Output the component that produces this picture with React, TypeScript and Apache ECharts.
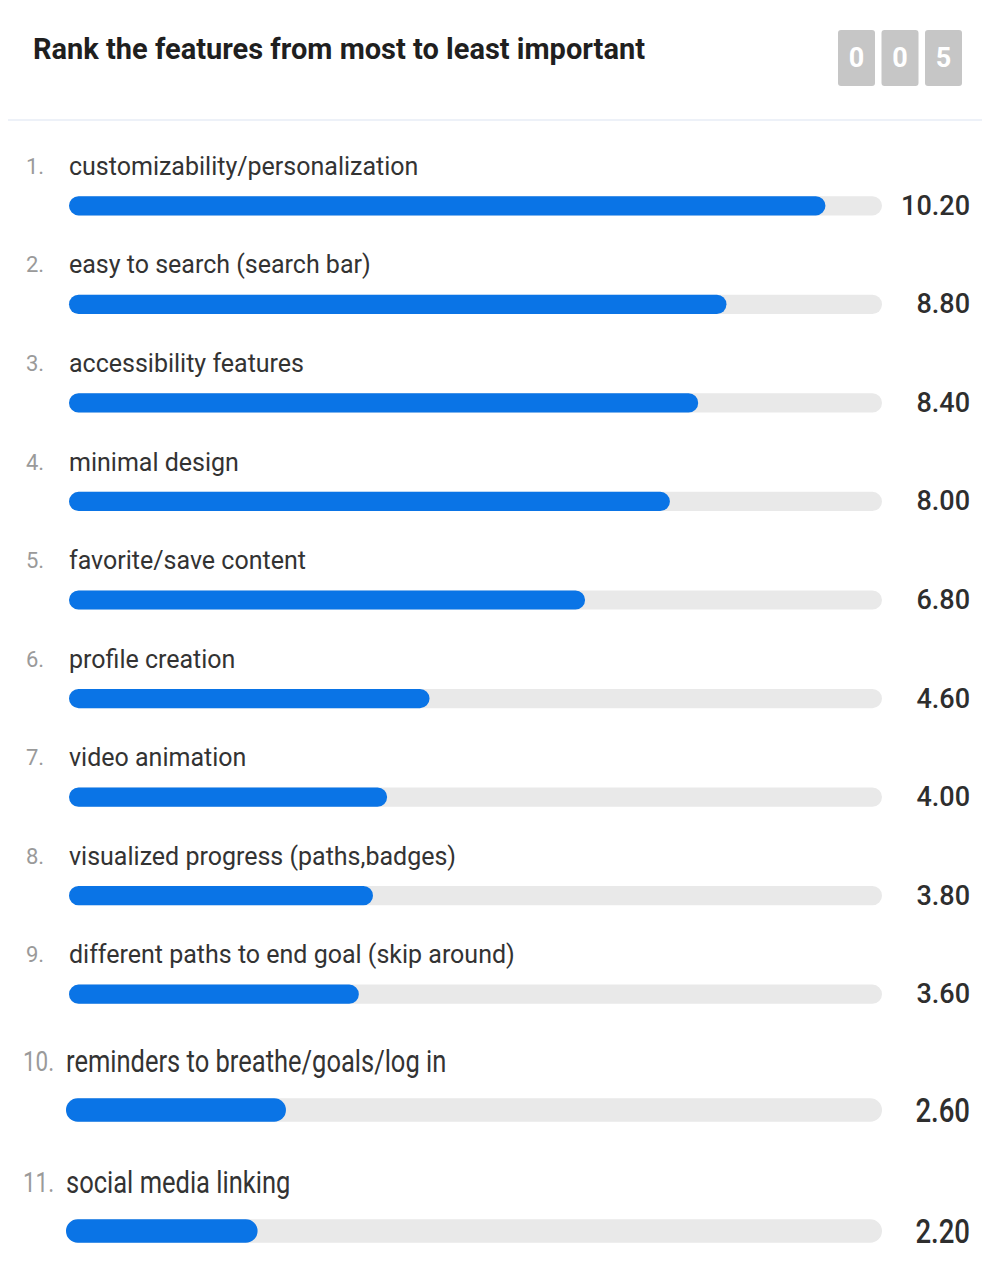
import React, { useEffect, useRef } from "react";
import * as echarts from "echarts";

const titleText = "Rank the features from most to least important";
const counterDigits = ["0", "0", "5"];
const features = [
  "customizability/personalization",
  "easy to search (search bar)",
  "accessibility features",
  "minimal design",
  "favorite/save content",
  "profile creation",
  "video animation",
  "visualized progress (paths,badges)",
  "different paths to end goal (skip around)",
  "reminders to breathe/goals/log in",
  "social media linking",
];
const scores = [10.2, 8.8, 8.4, 8.0, 6.8, 4.6, 4.0, 3.8, 3.6, 2.6, 2.2];
const scaleMin = -0.5;
const scaleMax = 11;

const FONT = "Roboto, 'Noto Sans', sans-serif";

function makeRenderer(textScaleY: number, textScaleX: number) {
  return (params: any, api: any) => {
    const cat = api.value(0);
    const v = api.value(1);
    const rank = api.value(2);
    const start = api.coord([scaleMin, cat]);
    const end = api.coord([v, cat]);
    const tEnd = api.coord([scaleMax, cat]);
    const band = api.size([0, 1])[1];
    const h = band * 0.195;
    const cy = start[1];
    const nameY = cy - band * 0.4;
    return {
      type: "group",
      children: [
        {
          type: "rect",
          shape: { x: start[0], y: cy - h / 2, width: tEnd[0] - start[0], height: h, r: h / 2 },
          style: { fill: "#e9e9e9" },
        },
        {
          type: "rect",
          shape: { x: start[0], y: cy - h / 2, width: end[0] - start[0], height: h, r: h / 2 },
          style: { fill: "#0a74e6" },
        },
        {
          type: "text",
          x: start[0] - 43,
          y: nameY,
          scaleY: textScaleY,
          scaleX: textScaleX,
          style: {
            text: rank + ".",
            fill: "#9a9a9a",
            font: `400 22px ${FONT}`,
            align: "left",
            verticalAlign: "middle",
          },
        },
        {
          type: "text",
          x: start[0],
          y: nameY,
          scaleY: textScaleY,
          scaleX: textScaleX,
          style: {
            text: features[rank - 1],
            fill: "#333333",
            font: `400 25px ${FONT}`,
            align: "left",
            verticalAlign: "middle",
          },
        },
        {
          type: "text",
          x: tEnd[0] + 88,
          y: cy,
          scaleY: textScaleY,
          scaleX: textScaleX,
          style: {
            text: v.toFixed(2),
            fill: "#2e2e2e",
            font: `500 27px ${FONT}`,
            align: "right",
            verticalAlign: "middle",
          },
        },
      ],
    };
  };
}

export default function App() {
  const ref = useRef<HTMLDivElement>(null);
  useEffect(() => {
    if (!ref.current) return;
    const chart = echarts.init(ref.current, undefined, { renderer: "svg" });
    const split = 9;
    const data1 = scores.slice(0, split).map((v, i) => [i, v, i + 1]);
    const data2 = scores.slice(split).map((v, i) => [i, v, split + i + 1]);
    const axisCommonX = {
      type: "value",
      min: scaleMin,
      max: scaleMax,
      show: false,
    };
    chart.setOption({
      animation: false,
      backgroundColor: "#ffffff",
      grid: [
        { left: 69, width: 813, top: 156.5, height: 887, containLabel: false },
        { left: 66, width: 816, top: 1049.5, height: 242, containLabel: false },
      ],
      xAxis: [
        { ...axisCommonX, gridIndex: 0 },
        { ...axisCommonX, gridIndex: 1 },
      ],
      yAxis: [
        {
          type: "category",
          gridIndex: 0,
          inverse: true,
          data: features.slice(0, split),
          show: false,
        },
        {
          type: "category",
          gridIndex: 1,
          inverse: true,
          data: features.slice(split),
          show: false,
        },
      ],
      graphic: [
        {
          type: "text",
          left: 33,
          top: 34,
          style: {
            text: titleText,
            fill: "#1f1f1f",
            font: `700 29px ${FONT}`,
          },
        },
        ...counterDigits.flatMap((d, i) => {
          const x = 838 + i * 43.5;
          return [
            {
              type: "rect",
              shape: { x, y: 30, width: 37, height: 56, r: 3 },
              style: { fill: "#c6c6c6" },
            },
            {
              type: "text",
              x: x + 18.5,
              y: 58,
              style: {
                text: d,
                fill: "#ffffff",
                font: `700 27px ${FONT}`,
                align: "center",
                verticalAlign: "middle",
              },
            },
          ];
        }),
        {
          type: "line",
          shape: { x1: 8, y1: 120, x2: 982, y2: 120 },
          style: { stroke: "#edf1f8", lineWidth: 2 },
        },
      ],
      series: [
        {
          type: "custom",
          xAxisIndex: 0,
          yAxisIndex: 0,
          encode: { x: 1, y: 0 },
          data: data1,
          renderItem: makeRenderer(1, 1),
        },
        {
          type: "custom",
          xAxisIndex: 1,
          yAxisIndex: 1,
          encode: { x: 1, y: 0 },
          data: data2,
          renderItem: makeRenderer(1.25, 1.02),
        },
      ],
    });
    return () => chart.dispose();
  }, []);
  return (
    <div
      style={{
        position: "absolute",
        left: 0,
        top: 0,
        width: 982,
        height: 1267,
        overflow: "hidden",
        background: "#ffffff",
      }}
    >
      <div ref={ref} style={{ width: 982, height: 1320 }} />
    </div>
  );
}
